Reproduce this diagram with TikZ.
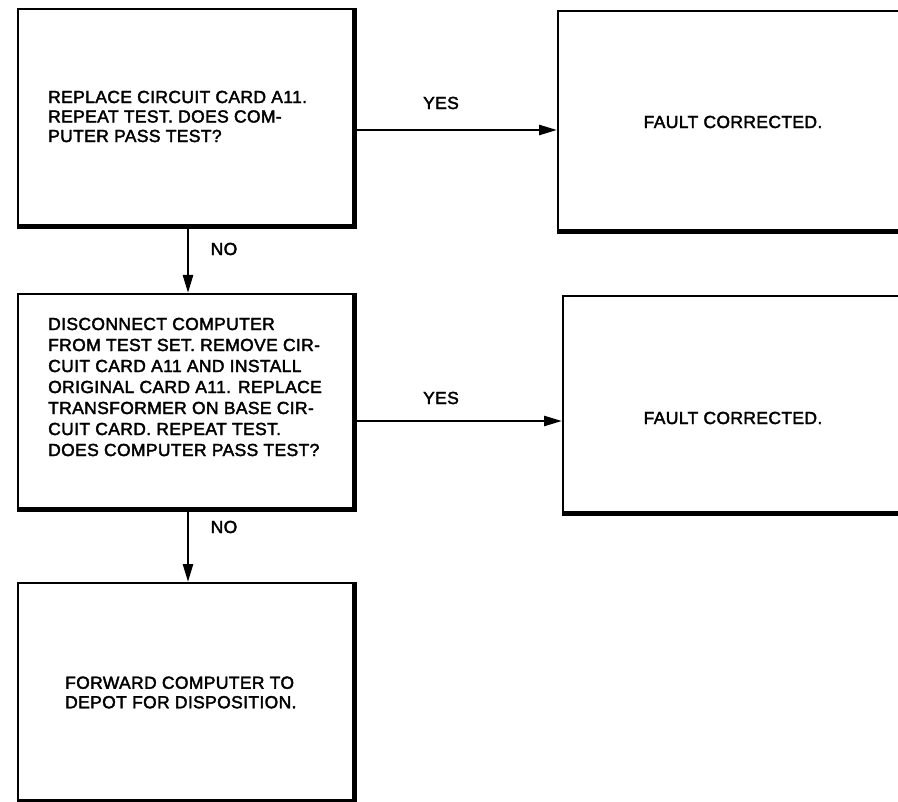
\documentclass[tikz,border=0pt]{standalone}
\usepackage{fontspec}
\newfontfamily\dfont{Liberation Sans}[FakeBold=2.2,LetterSpace=2]
\usetikzlibrary{arrows.meta}
\begin{document}
\begin{tikzpicture}[x=1pt,y=-1pt,
  box/.style={draw, line width=1.8pt, anchor=north west, inner sep=0pt},
  shadowedge/.style={line width=5pt, line join=miter},
  txt/.style={font=\dfont\fontsize{17.5}{19.5}\selectfont, align=left, anchor=west, inner sep=0pt},
  lbl/.style={font=\dfont\fontsize{17.5}{19.5}\selectfont, inner sep=0pt},
  arr/.style={line width=2.6pt, -{Triangle[length=18pt,width=10pt]}}]
\useasboundingbox (0,0) rectangle (898,802);
% boxes
\node[box, minimum width=336pt, minimum height=217pt] (b1) at (17,8) {};
\node[box, minimum width=342pt, minimum height=220pt] (b2) at (557,10) {};
\node[box, minimum width=336pt, minimum height=215pt] (b3) at (17,293) {};
\node[box, minimum width=338pt, minimum height=217pt] (b4) at (562,295) {};
\node[box, minimum width=336pt, minimum height=218pt] (b5) at (17,582) {};
\foreach \b in {b1,b2,b3,b4,b5}
  \draw[shadowedge] (\b.north east) -- (\b.south east) -- (\b.south west);
% texts
\node[txt] (t1) at (48,116.5) {REPLACE CIRCUIT CARD A11.\\REPEAT TEST. DOES COM-\\PUTER PASS TEST?};
\node[lbl] (t2) at (733,122) {FAULT CORRECTED.};
\node[txt, font=\dfont\fontsize{17.5}{21}\selectfont] (t3) at (48,387) {DISCONNECT COMPUTER\\FROM TEST SET. REMOVE CIR-\\CUIT CARD A11 AND INSTALL\\ORIGINAL CARD A11. REPLACE\\TRANSFORMER ON BASE CIR-\\CUIT CARD. REPEAT TEST.\\DOES COMPUTER PASS TEST?};
\node[lbl] (t4) at (733,418) {FAULT CORRECTED.};
\node[txt] (t5) at (65,692.5) {FORWARD COMPUTER TO\\DEPOT FOR DISPOSITION.};
% connectors
\draw[arr] (b1.east |- 0,130) -- (b2.west |- 0,130);
\node[lbl] (y1) at (441,103) {YES};
\draw[arr] (b1.south -| 188,0) -- (b3.north -| 188,0);
\node[lbl] (n1) at (224,249) {NO};
\draw[arr] (b3.east |- 0,421) -- (b4.west |- 0,421);
\node[lbl] (y2) at (441,398) {YES};
\draw[arr] (b3.south -| 188,0) -- (b5.north -| 188,0);
\node[lbl] (n2) at (224,527) {NO};
\end{tikzpicture}
\end{document}
